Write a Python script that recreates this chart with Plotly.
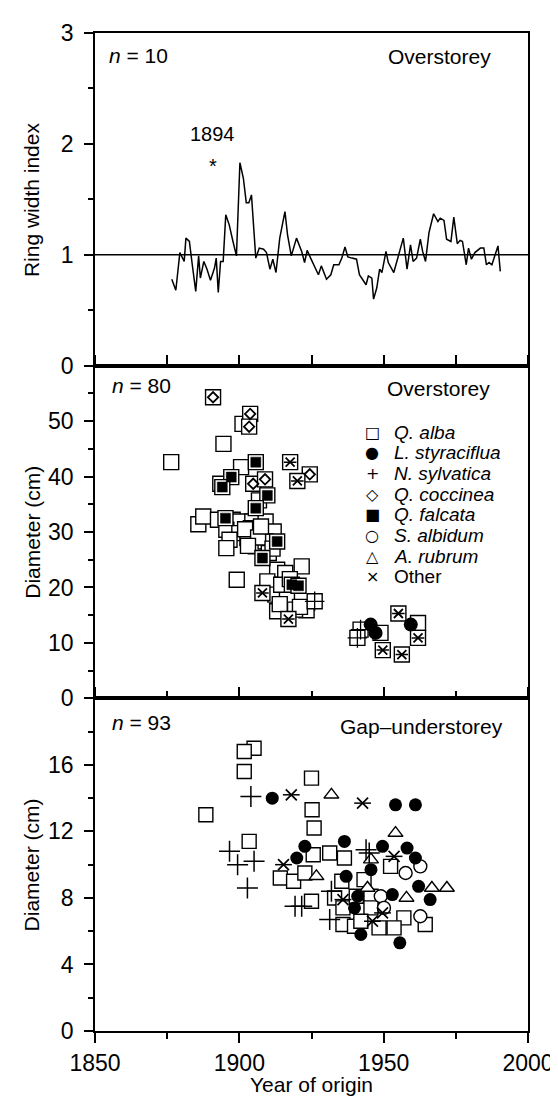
import plotly.graph_objects as go

# ---------------- data ----------------
ring_year = [1876.6, 1878.0, 1879.4, 1880.9, 1881.5, 1882.7, 1883.7, 1884.9, 1885.9, 1886.5,
             1887.7, 1888.8, 1890.0, 1891.4, 1892.0, 1892.7, 1893.5, 1894.4, 1895.3, 1896.5,
             1897.8, 1899.0, 1900.2, 1901.4, 1902.4, 1903.3, 1904.2, 1905.7, 1906.9, 1908.4,
             1909.4, 1910.6, 1911.6, 1912.7, 1914.0, 1915.8, 1916.7, 1918.0, 1919.8, 1920.7,
             1921.6, 1922.6, 1923.5, 1924.7, 1925.9, 1927.4, 1928.4, 1930.2, 1931.7, 1932.7,
             1934.5, 1935.5, 1936.6, 1937.6, 1939.0, 1940.6, 1941.6, 1943.1, 1943.9, 1944.7,
             1945.9, 1946.5, 1947.6, 1948.6, 1949.4, 1950.8, 1951.6, 1953.5, 1954.7, 1956.8,
             1958.1, 1959.3, 1960.2, 1961.4, 1962.7, 1963.5, 1964.5, 1965.7, 1967.3, 1968.8,
             1969.6, 1970.9, 1971.8, 1973.3, 1974.3, 1975.5, 1976.5, 1977.3, 1978.6, 1979.4,
             1980.4, 1981.6, 1983.5, 1984.7, 1985.6, 1986.5, 1987.5, 1989.6, 1990.4]
ring_index = [0.78, 0.68, 1.02, 0.94, 1.15, 1.12, 0.91, 0.67, 0.99, 0.79,
              0.94, 0.87, 0.77, 0.88, 0.97, 0.66, 0.94, 0.94, 1.36, 1.27,
              1.12, 0.99, 1.83, 1.69, 1.47, 1.47, 1.54, 0.97, 1.06, 1.05,
              1.02, 0.87, 0.96, 0.84, 1.15, 1.39, 1.18, 0.99, 1.15, 1.09,
              1.03, 0.93, 1.04, 0.97, 0.90, 0.82, 0.90, 0.78, 0.82, 0.91,
              0.91, 0.97, 1.07, 0.98, 0.97, 0.96, 0.82, 0.76, 0.73, 0.81,
              0.79, 0.60, 0.70, 0.87, 0.84, 1.03, 0.93, 0.84, 0.96, 1.15,
              0.87, 1.09, 0.94, 0.97, 1.14, 1.03, 0.94, 1.20, 1.37, 1.30,
              1.33, 1.31, 1.14, 1.12, 1.34, 1.10, 1.13, 1.12, 0.91, 1.06,
              0.96, 1.02, 1.06, 1.06, 0.91, 0.93, 0.91, 1.08, 0.85]
marker_year = [1890.8]
marker_index = [1.835]

# Overstorey (n = 80)
ov_alba_year = [1901.1, 1894.5, 1876.4, 1900.6, 1893.4, 1906.8, 1885.8, 1887.5, 1892.6, 1897.7,
                1900.0, 1904.5, 1909.1, 1895.5, 1900.0, 1904.0, 1908.0, 1911.9, 1896.6, 1902.8,
                1895.5, 1905.7, 1909.1, 1910.2, 1899.1, 1913.1, 1921.6, 1915.9, 1909.7, 1912.5,
                1916.5, 1923.3, 1913.1, 1919.3, 1948.9, 1961.9, 1902.0, 1906.5, 1914.5, 1921.0,
                1903.0, 1907.5, 1911.5, 1917.5, 1914.0]
ov_alba_diam = [49.5, 45.9, 42.6, 41.7, 38.7, 35.7, 31.4, 32.8, 32.2, 32.2,
                31.9, 31.9, 31.9, 30.4, 29.8, 30.7, 29.8, 30.1, 28.6, 28.9,
                27.1, 27.4, 28.3, 26.2, 21.4, 23.2, 23.8, 22.6, 21.1, 18.7,
                18.3, 15.9, 15.7, 16.0, 11.8, 13.6, 30.5, 29.0, 20.5, 16.5,
                27.5, 31.0, 27.0, 21.5, 17.0]
ov_styr_year = [1945.5, 1947.2, 1959.4]
ov_styr_diam = [13.3, 11.8, 13.3]
ov_nyssa_year = [1926.1, 1942.0, 1940.9]
ov_nyssa_diam = [17.5, 12.4, 10.9]
ov_cocc_year = [1890.9, 1903.75, 1903.4, 1924.4, 1904.8, 1908.9]
ov_cocc_diam = [54.3, 51.3, 49.0, 40.4, 38.7, 39.5]
ov_falc_year = [1905.7, 1897.2, 1894.1, 1909.7, 1905.7, 1895.2, 1913.1, 1908.0, 1918.2, 1920.5]
ov_falc_diam = [42.6, 39.9, 38.1, 36.6, 34.3, 32.5, 28.3, 25.3, 20.5, 20.3]
ov_other_year = [1917.6, 1920.1, 1908.0, 1917.0, 1949.7, 1955.1, 1961.9, 1956.3]
ov_other_diam = [42.6, 39.2, 19.0, 14.3, 8.7, 15.3, 10.9, 7.9]

# Gap-understorey (n = 93)
gp_alba_year = [1905.1, 1901.7, 1901.7, 1888.4, 1903.4, 1925.0, 1925.2, 1925.9, 1925.6, 1914.2,
                1918.8, 1922.7, 1925.0, 1931.3, 1936.4, 1952.4, 1935.5, 1945.6, 1933.0, 1935.9,
                1945.6, 1957.0, 1964.4, 1935.9, 1939.9, 1948.4, 1953.6, 1940.5, 1943.2, 1942.1]
gp_alba_diam = [17.0, 16.8, 15.6, 13.0, 11.4, 15.2, 13.3, 12.2, 10.6, 9.2,
                9.0, 9.5, 7.8, 10.7, 10.4, 9.9, 9.0, 8.1, 8.0, 7.4,
                7.4, 6.8, 6.4, 6.4, 6.3, 6.2, 6.2, 8.1, 9.1, 6.6]
gp_styr_year = [1911.4, 1922.7, 1919.9, 1954.1, 1961.0, 1936.4, 1949.6, 1958.1, 1961.0, 1945.6,
                1937.0, 1962.1, 1953.0, 1966.1, 1941.0, 1939.9, 1942.1, 1955.6]
gp_styr_diam = [14.0, 11.1, 10.4, 13.6, 13.6, 11.4, 11.1, 11.0, 10.4, 9.7,
                9.3, 8.7, 8.2, 7.9, 8.1, 7.4, 5.8, 5.3]
gp_nyssa_year = [1904.0, 1896.6, 1899.4, 1905.1, 1902.8, 1921.6, 1919.3, 1943.9, 1931.9, 1931.3, 1945.0]
gp_nyssa_diam = [14.1, 10.8, 10.0, 10.2, 8.6, 7.5, 7.5, 10.9, 8.4, 6.7, 10.7]
gp_other_year = [1918.0, 1915.3, 1942.7, 1953.6, 1935.9, 1949.6, 1946.1]
gp_other_diam = [14.2, 10.0, 13.7, 10.5, 7.9, 7.1, 6.6]
gp_rubrum_year = [1926.7, 1931.9, 1954.1, 1945.6, 1966.7, 1971.9, 1957.9, 1944.4]
gp_rubrum_diam = [9.3, 14.2, 11.9, 10.3, 8.6, 8.6, 8.0, 8.6]
gp_albidum_year = [1957.6, 1949.0, 1950.1, 1962.7, 1962.7]
gp_albidum_diam = [9.5, 8.1, 7.4, 6.9, 9.9]

legend_symbols = ["□", "●", "+", "◇", "■", "○", "△", "×"]
legend_labels = ["<i>Q. alba</i>", "<i>L. styraciflua</i>", "<i>N. sylvatica</i>",
                 "<i>Q. coccinea</i>", "<i>Q. falcata</i>", "<i>S. albidum</i>",
                 "<i>A. rubrum</i>", "Other"]

x_ticks = [1850, 1900, 1950, 2000]
x_minor = [1875, 1925, 1975]

# ---------------- figure ----------------
FONT = "Liberation Sans"
BLK = "black"
TXT = 21
TICK = 23
LEG = 19
fig = go.Figure()

# top panel
fig.add_trace(go.Scatter(x=ring_year, y=ring_index, mode="lines",
                         line=dict(color=BLK, width=1.5), xaxis="x", yaxis="y",
                         showlegend=False, hoverinfo="skip"))


def sq(xv, yv, ax, ay, size=15):
    return go.Scatter(x=xv, y=yv, mode="markers", xaxis=ax, yaxis=ay, showlegend=False,
                      marker=dict(symbol="square", size=size, color="white",
                                  line=dict(color=BLK, width=1.4)))


def mk(xv, yv, ax, ay, symbol, size, color=BLK, lw=1.4):
    return go.Scatter(x=xv, y=yv, mode="markers", xaxis=ax, yaxis=ay, showlegend=False,
                      marker=dict(symbol=symbol, size=size, color=color,
                                  line=dict(color=BLK, width=lw)))


# middle panel
fig.add_trace(sq(ov_alba_year, ov_alba_diam, "x2", "y2"))
for yy, dd in [(ov_cocc_year, ov_cocc_diam), (ov_falc_year, ov_falc_diam),
               (ov_other_year, ov_other_diam), (ov_nyssa_year, ov_nyssa_diam)]:
    fig.add_trace(sq(yy, dd, "x2", "y2"))
fig.add_trace(mk(ov_cocc_year, ov_cocc_diam, "x2", "y2", "diamond-open", 8, lw=1.8))
fig.add_trace(mk(ov_falc_year, ov_falc_diam, "x2", "y2", "square", 10, lw=0.5))
fig.add_trace(mk(ov_other_year, ov_other_diam, "x2", "y2", "x-thin-open", 9, lw=1.8))
fig.add_trace(mk(ov_other_year, ov_other_diam, "x2", "y2", "line-ew-open", 9, lw=1.5))
fig.add_trace(mk(ov_nyssa_year, ov_nyssa_diam, "x2", "y2", "cross-thin-open", 14, lw=1.3))
fig.add_trace(mk(ov_styr_year, ov_styr_diam, "x2", "y2", "circle", 14, lw=0))

# bottom panel
fig.add_trace(sq(gp_alba_year, gp_alba_diam, "x3", "y3", size=14))
fig.add_trace(mk(gp_rubrum_year, gp_rubrum_diam, "x3", "y3", "triangle-up", 13, color="white", lw=1.4))
fig.add_trace(mk(gp_albidum_year, gp_albidum_diam, "x3", "y3", "circle", 13, color="white", lw=1.4))
fig.add_trace(mk(gp_styr_year, gp_styr_diam, "x3", "y3", "circle", 13, lw=0))
fig.add_trace(mk(gp_nyssa_year, gp_nyssa_diam, "x3", "y3", "cross-thin-open", 15, lw=1.5))
fig.add_trace(mk(gp_other_year, gp_other_diam, "x3", "y3", "x-thin-open", 11, lw=1.7))
fig.add_trace(mk(gp_other_year, gp_other_diam, "x3", "y3", "line-ew-open", 12, lw=1.5))

# ---------------- axes ----------------
LW = 1.5
common_x = dict(range=[1850, 2000], showgrid=False, zeroline=False, showline=True,
                linecolor=BLK, linewidth=LW, mirror=True)
common_y = dict(showgrid=False, zeroline=False, showline=True, linecolor=BLK, linewidth=LW,
                mirror=True, ticks="outside", ticklen=9, tickwidth=LW, tickcolor=BLK,
                tickfont=dict(family=FONT, size=TICK, color=BLK), ticklabelstandoff=6)

fig.update_layout(
    xaxis=dict(common_x, anchor="y", domain=[0, 1], ticks="", showticklabels=False),
    yaxis=dict(common_y, anchor="x", domain=[2 / 3, 1], range=[0, 3], tickvals=[0, 1, 2, 3],
               minor=dict(tickvals=[0.5, 1.5, 2.5], ticks="outside", ticklen=5, tickcolor=BLK,
                          tickwidth=LW)),
    xaxis2=dict(common_x, anchor="y2", domain=[0, 1], side="top", ticks="outside", ticklen=9,
                tickwidth=LW, tickcolor=BLK, dtick=25, tick0=1850, showticklabels=False),
    yaxis2=dict(common_y, anchor="x2", domain=[1 / 3, 2 / 3], range=[0, 60],
                tickvals=[0, 10, 20, 30, 40, 50],
                minor=dict(tickvals=[5, 15, 25, 35, 45, 55], ticks="outside", ticklen=5,
                           tickcolor=BLK, tickwidth=LW)),
    xaxis3=dict(common_x, anchor="y3", domain=[0, 1], mirror="ticks", ticks="outside",
                ticklen=10, tickwidth=LW, tickcolor=BLK, tickvals=x_ticks,
                tickfont=dict(family=FONT, size=TICK, color=BLK), ticklabelstandoff=1,
                minor=dict(tickvals=x_minor, ticks="outside", ticklen=6, tickcolor=BLK,
                           tickwidth=LW)),
    yaxis3=dict(common_y, anchor="x3", domain=[0, 1 / 3], range=[0, 20],
                tickvals=[0, 4, 8, 12, 16],
                minor=dict(tickvals=[2, 6, 10, 14, 18], ticks="outside", ticklen=5,
                           tickcolor=BLK, tickwidth=LW)),
)

fig.add_shape(type="line", xref="x domain", yref="y", x0=0, x1=1, y0=1, y1=1,
              line=dict(color=BLK, width=1.6))

# ---------------- annotations ----------------
anns = []
tf = dict(family=FONT, size=TXT, color=BLK)


def txt(x, y, text, xref, yref, xanchor="left", size=TXT, **kw):
    d = dict(x=x, y=y, text=text, xref=xref, yref=yref, xanchor=xanchor, yanchor="middle",
             showarrow=False, font=dict(family=FONT, size=size, color=BLK))
    d.update(kw)
    anns.append(d)


txt(1854.3, 2.8, "<i>n</i> = 10", "x", "y")
txt(1987.8, 2.79, "Overstorey", "x", "y", xanchor="right")
txt(marker_year[0], 2.09, "1894", "x", "y", xanchor="center", size=20)
txt(marker_year[0], marker_index[0], "*", "x", "y", xanchor="center", yshift=-4, size=20)
txt(1855.1, 56.4, "<i>n</i> = 80", "x2", "y2")
txt(1987.5, 55.8, "Overstorey", "x2", "y2", xanchor="right")
txt(1855.1, 18.56, "<i>n</i> = 93", "x3", "y3")
txt(1991.9, 18.3, "Gap–understorey", "x3", "y3", xanchor="right")

for i, (s, lab) in enumerate(zip(legend_symbols, legend_labels)):
    yrow = 48.0 - i * 3.73
    anns.append(dict(x=1946.0, y=yrow, text=s, xref="x2", yref="y2", xanchor="center",
                     yanchor="middle", showarrow=False,
                     font=dict(family="DejaVu Sans", size=16, color=BLK)))
    txt(1953.4, yrow, lab, "x2", "y2", size=LEG, borderpad=0)

# axis titles
for lab, yc in [("Ring width index", 5 / 6), ("Diameter (cm)", 0.5), ("Diameter (cm)", 1 / 6)]:
    anns.append(dict(x=-0.146, y=yc, text=lab, xref="paper", yref="paper", xanchor="center",
                     yanchor="middle", textangle=-90, showarrow=False, font=tf))
anns.append(dict(x=0.5, y=-0.054, text="Year of origin", xref="paper", yref="paper",
                 xanchor="center", yanchor="middle", showarrow=False, font=tf))

fig.update_layout(
    annotations=anns,
    width=558, height=1096,
    margin=dict(l=87, r=33, t=22, b=73),
    paper_bgcolor="white", plot_bgcolor="white",
    showlegend=False,
    font=dict(family=FONT, color=BLK),
)

fig.write_html("out.html")
